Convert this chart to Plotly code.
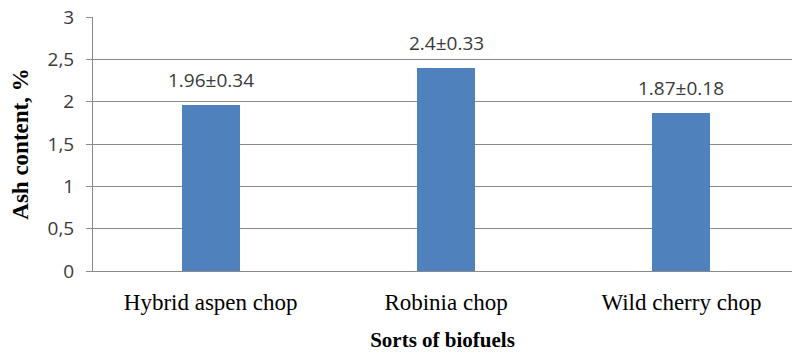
import plotly.graph_objects as go

# Ash content of biofuel chops (mean ± deviation, %)
categories = ["Hybrid aspen chop", "Robinia chop", "Wild cherry chop"]
ash_mean = [1.96, 2.4, 1.87]
ash_dev = [0.34, 0.33, 0.18]
y_tick_vals = [0, 0.5, 1, 1.5, 2, 2.5, 3]
y_tick_text = ["0", "0,5", "1", "1,5", "2", "2,5", "3"]

bar_color = "#4F81BD"
grid_color = "#8A8A8A"
label_color = "#3A3A3A"

fig = go.Figure()
fig.add_trace(go.Bar(
    x=categories,
    y=ash_mean,
    width=0.246,
    marker=dict(color=bar_color, line=dict(width=0)),
    hoverinfo="skip",
))

# value ± deviation labels above each bar
for cat, m, d in zip(categories, ash_mean, ash_dev):
    fig.add_annotation(
        x=cat, y=m, text=f"{m}±{d}",
        showarrow=False, yanchor="middle", yshift=25,
        font=dict(family="Open Sans", size=19, color=label_color),
    )

fig.update_layout(
    width=792, height=352,
    margin=dict(l=93, r=0, t=17, b=81),
    paper_bgcolor="white", plot_bgcolor="white",
    showlegend=False,
    bargap=0,
)
fig.update_xaxes(
    range=[-0.5, 2.47],
    showgrid=False,
    showline=True, linecolor=grid_color, linewidth=1,
    ticks="",
    ticklabelstandoff=10,
    tickfont=dict(family="Liberation Serif", size=23, color="black"),
    title=dict(text="<b>Sorts of biofuels</b>",
               font=dict(family="Liberation Serif", size=21, color="black"),
               standoff=22),
)
fig.update_yaxes(
    range=[0, 3],
    tickvals=y_tick_vals, ticktext=y_tick_text,
    showgrid=True, gridcolor=grid_color, gridwidth=1,
    showline=True, linecolor=grid_color, linewidth=1,
    ticks="outside", ticklen=6, tickcolor=grid_color,
    ticklabelstandoff=8,
    zeroline=False,
    tickfont=dict(family="Open Sans", size=19, color=label_color),
    title=dict(text="<b>Ash content, %</b>",
               font=dict(family="Liberation Serif", size=23, color="black"),
               standoff=12),
)

fig.write_html("out.html")
